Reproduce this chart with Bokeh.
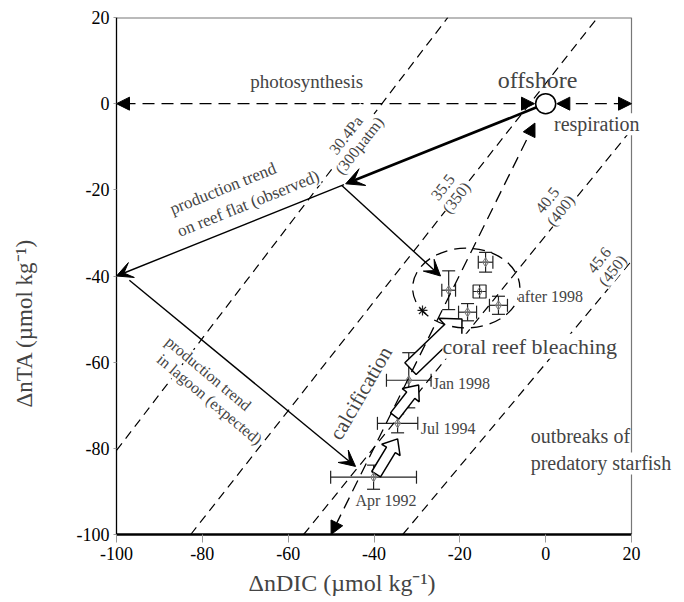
import math
from bokeh.plotting import figure
from bokeh.models import (Label, Arrow, NormalHead, VeeHead, Whisker, TeeHead,
                          ColumnDataSource, FixedTicker, Title)
from bokeh.embed import file_html
from bokeh.resources import INLINE

FONT = "Liberation Serif"

# ---------------- data ----------------
x_ticks = [-100, -80, -60, -40, -20, 0, 20]
x_tick_labels = ["-100", "-80", "-60", "-40", "-20", "0", "20"]
y_ticks = [-100, -80, -60, -40, -20, 0, 20]
y_tick_labels = ["-100", "-80", "-60", "-40", "-20", "0", "20"]
x_min, x_max, y_min, y_max = -100, 20, -100, 20

# pCO2 isolines (dashed)
iso_x0 = [-100.0, -82.7, -56.4, -33.3]
iso_y0 = [-80.5, -100.0, -100.0, -100.0]
iso_x1 = [-22.8, 12.1, 20.0, 20.0]
iso_y1 = [20.0, 20.0, -6.0, -36.5]
iso_text = ["30.4Pa\n(300µatm)", "35.5\n(350)", "40.5\n(400)", "45.6\n(450)"]
iso_tx = [-45.0, -22.4, 1.9, 14.0]
iso_ty = [-8.5, -20.6, -23.6, -37.5]

# observed points
pt_x = [-40.1, -34.5, -31.9, -14.0, -22.6, -18.2, -11.0]
pt_y = [-86.7, -74.2, -64.2, -36.8, -43.3, -48.4, -46.8]
pt_xerr = [10.0, 4.7, 5.2, 1.7, 1.6, 2.1, 2.1]
pt_yerr = [2.8, 2.2, 6.4, 2.3, 4.5, 2.0, 2.1]
sq_x = [-15.4]
sq_y = [-43.6]
star_x = [-28.7]
star_y = [-48.0]

offshore_x = [0.0]
offshore_y = [0.0]

# cluster "after 1998"
ell_x, ell_y, ell_w, ell_h = -18.5, -42.8, 25.0, 18.5

# dashed double arrows (photosynthesis / respiration / calcification)
dd_x0 = [-2.6, 2.6, -2.5]
dd_y0 = [0.0, 0.0, -4.5]
dd_x1 = [-100.0, 20.0, -50.0]
dd_y1 = [0.0, 0.0, -100.0]

# solid trend arrows
tr_x0 = [-47.0, -47.5, -97.0]
tr_y0 = [-18.8, -19.0, -41.0]
tr_x1 = [-100.0, -24.5, -44.3]
tr_y1 = [-40.0, -40.0, -84.2]
thick_x0, thick_y0, thick_x1, thick_y1 = -2.1, -0.85, -46.6, -18.6

# hollow block arrows (base -> tip)
ha_x0 = [-39.5, -35.2, -31.5]
ha_y0 = [-86.0, -72.5, -61.5]
ha_x1 = [-34.5, -29.6, -19.5]
ha_y1 = [-77.8, -65.3, -50.0]
ha_shaft = [1.2, 1.2, 1.9]
ha_head = [2.5, 2.5, 3.9]
ha_hlen = [3.0, 3.0, 3.8]

# free texts
txt = ["photosynthesis", "offshore", "respiration", "production trend",
       "on reef flat (observed)", "production trend", "in lagoon (expected)",
       "calcification", "coral reef bleaching", "outbreaks of", "predatory starfish",
       "after 1998", "Jan 1998", "Jul 1994", "Apr 1992"]
txt_x = [-55.7, -1.9, 11.9, -75.2, -69.3, -78.6, -78.3, -43.1, -3.7, -3.5, -3.5,
         -6.5, -26.3, -29.1, -44.3]
txt_y = [5.2, 5.6, -4.8, -19.7, -23.2, -62.6, -68.6, -67.2, -56.3, -77.2, -83.5,
         -44.7, -64.9, -75.4, -92.1]
txt_ang = [0, 0, 0, 21.9, 21.9, -40, -40, 60, 0, 0, 0, 0, 0, 0, 0]
txt_size = [19, 24, 20, 17, 17, 16, 16, 21, 22, 20, 20, 16, 16, 16, 16]
txt_align = ["center", "center", "center", "center", "center", "center", "center",
             "center", "center", "left", "left", "left", "left", "left", "left"]
txt_bg = [None, None, "white", "white", "white", "white", "white", "white", "white",
          "white", "white", "white", "white", "white", "white"]

xlabel = "ΔnDIC (µmol kg⁻¹)"
ylabel = "ΔnTA (µmol kg⁻¹)"

# ---------------- figure ----------------
px_per_unit = 515 / (x_max - x_min)
x_extra = 53 / px_per_unit  # room at right for texts that run past the box
p = figure(width=684, height=602, x_range=(x_min, x_max + x_extra), y_range=(y_min, y_max),
           output_backend="svg", toolbar_location=None,
           min_border_left=116, min_border_right=0, min_border_top=17,
           min_border_bottom=68)
p.grid.visible = False
p.background_fill_color = "white"
p.border_fill_color = "white"
p.outline_line_color = None

for ax, ticks, labs in ((p.xaxis, x_ticks, x_tick_labels), (p.yaxis, y_ticks, y_tick_labels)):
    ax.ticker = FixedTicker(ticks=ticks)
    ax.major_label_overrides = {t: l for t, l in zip(ticks, labs)}
    ax.major_label_text_font = FONT
    ax.major_label_text_font_size = "18px"
    ax.major_label_text_color = "black"
    ax.minor_tick_line_color = None
    ax.major_tick_line_color = "#999999"
    ax.major_tick_in = 0
    ax.axis_line_color = "black"

p.xaxis.bounds = (x_min, x_max)
p.xaxis.axis_line_width = 2.5
p.xaxis.major_tick_out = 8
p.xaxis.major_label_standoff = 4
p.yaxis.axis_line_width = 1.3
p.yaxis.major_tick_out = 3
p.yaxis.major_label_standoff = 4
# blank spacer label so the y title sits further out
p.yaxis.axis_label = " "
p.yaxis.axis_label_text_font_size = "10px"
p.yaxis.axis_label_standoff = 18

# box: top and right sides
p.segment(x0=[x_min], y0=[y_max], x1=[x_max], y1=[y_max], line_color="#777777", line_width=2)
p.segment(x0=[x_max], y0=[y_min], x1=[x_max], y1=[y_max], line_color="#777777", line_width=1.2)

# isolines
p.segment(x0=iso_x0, y0=iso_y0, x1=iso_x1, y1=iso_y1, line_color="black",
          line_width=1.2, line_dash="9 6")

# error bars
src = ColumnDataSource(dict(
    x=pt_x, y=pt_y,
    xl=[a - b for a, b in zip(pt_x, pt_xerr)], xu=[a + b for a, b in zip(pt_x, pt_xerr)],
    yl=[a - b for a, b in zip(pt_y, pt_yerr)], yu=[a + b for a, b in zip(pt_y, pt_yerr)]))
for base, lo, hi, dim in (("y", "xl", "xu", "width"), ("x", "yl", "yu", "height")):
    p.add_layout(Whisker(source=src, base=base, lower=lo, upper=hi, dimension=dim,
                         line_color="#222222", line_width=1.2,
                         upper_head=TeeHead(size=13, line_color="#222222", line_width=1.2),
                         lower_head=TeeHead(size=13, line_color="#222222", line_width=1.2)))

# hollow block arrows
xs, ys = [], []
for x0, y0, x1, y1, sw, hw, hl in zip(ha_x0, ha_y0, ha_x1, ha_y1, ha_shaft, ha_head, ha_hlen):
    dx, dy = x1 - x0, y1 - y0
    L = math.hypot(dx, dy)
    ux, uy = dx / L, dy / L
    nx, ny = -uy, ux
    kx, ky = x1 - ux * hl, y1 - uy * hl
    xs.append([x0 + nx * sw, kx + nx * sw, kx + nx * hw, x1, kx - nx * hw, kx - nx * sw, x0 - nx * sw])
    ys.append([y0 + ny * sw, ky + ny * sw, ky + ny * hw, y1, ky - ny * hw, ky - ny * sw, y0 - ny * sw])
p.patches(xs, ys, fill_color="white", line_color="black", line_width=1.5)

# markers
p.scatter(pt_x, pt_y, marker="diamond_cross", size=9, fill_color=None, line_color="#777777", line_width=1)
p.scatter(sq_x, sq_y, marker="square_cross", size=13, fill_color=None, line_color="#222222", line_width=1.2)
p.scatter(sq_x, sq_y, marker="diamond", size=8, fill_color=None, line_color="#777777", line_width=1)
p.scatter(star_x, star_y, marker="asterisk", size=10, line_color="#222222", line_width=1.2)

# cluster ellipse
p.ellipse(x=[ell_x], y=[ell_y], width=ell_w, height=ell_h, fill_color=None,
          line_color="black", line_width=1.3, line_dash="12 7")

# offshore point
p.scatter(offshore_x, offshore_y, marker="circle", size=20, fill_color="white",
          line_color="black", line_width=1.5)

# dashed double arrows
dsrc = ColumnDataSource(dict(x0=dd_x0, y0=dd_y0, x1=dd_x1, y1=dd_y1))
p.add_layout(Arrow(source=dsrc, x_start="x0", y_start="y0", x_end="x1", y_end="y1",
                   line_color="black", line_width=1.3, line_dash="12 7",
                   start=NormalHead(size=13, fill_color="black", line_color="black"),
                   end=NormalHead(size=13, fill_color="black", line_color="black")))

# solid arrows
tsrc = ColumnDataSource(dict(x0=tr_x0, y0=tr_y0, x1=tr_x1, y1=tr_y1))
p.add_layout(Arrow(source=tsrc, x_start="x0", y_start="y0", x_end="x1", y_end="y1",
                   line_color="black", line_width=1.4,
                   end=VeeHead(size=16, fill_color="black", line_color="black")))
p.add_layout(Arrow(x_start=thick_x0, y_start=thick_y0, x_end=thick_x1, y_end=thick_y1,
                   line_color="black", line_width=2.6,
                   end=VeeHead(size=18, fill_color="black", line_color="black")))

# isoline labels
for t, x, y in zip(iso_text, iso_tx, iso_ty):
    p.add_layout(Label(x=x, y=y, text=t, angle=52, angle_units="deg",
                       text_align="center", text_baseline="middle",
                       text_font=FONT, text_font_size="16px", text_line_height=1.0,
                       background_fill_color="white"))

# texts
for t, x, y, a, s, al, bg in zip(txt, txt_x, txt_y, txt_ang, txt_size, txt_align, txt_bg):
    p.add_layout(Label(x=x, y=y, text=t, angle=a, angle_units="deg",
                       text_align=al, text_baseline="middle",
                       text_font=FONT, text_font_size=f"{s}px",
                       background_fill_color=bg))

# axis titles
p.add_layout(Title(text=xlabel, align="left", offset=132, standoff=10,
                   text_font=FONT, text_font_size="24px", text_font_style="normal"), "below")
p.add_layout(Title(text=ylabel, align="left", offset=127, standoff=10,
                   text_font=FONT, text_font_size="23px", text_font_style="normal"), "left")

open("out.html", "w").write(file_html(p, INLINE))
